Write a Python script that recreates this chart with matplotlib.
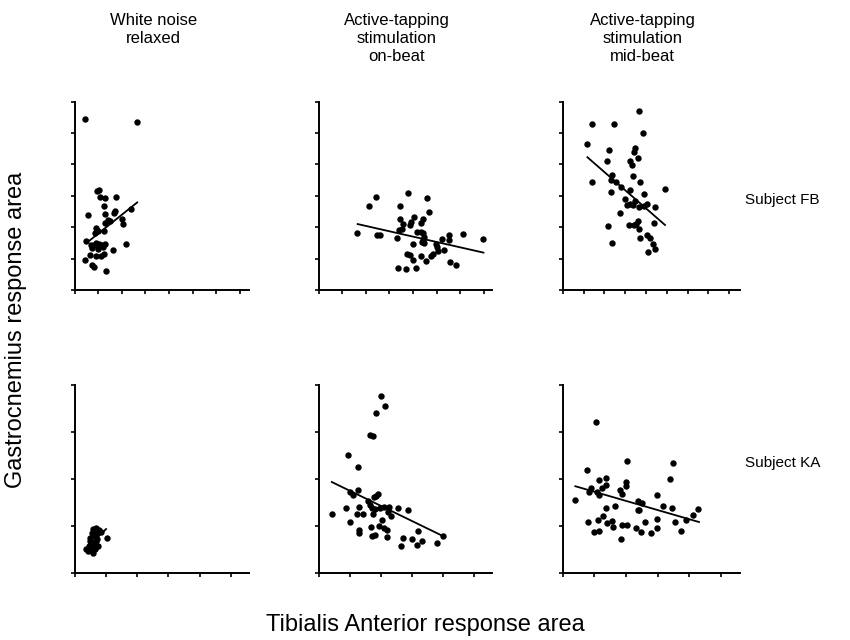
import matplotlib.pyplot as plt
import numpy as np

plt.rcParams['font.family'] = ['Liberation Sans', 'DejaVu Sans']

# units: one tick step = 1 on both axes (the original has no tick labels)

# Subject FB, white noise relaxed
fb_wn_x = [0.45, 2.64, 1.04, 0.96, 1.09, 1.28, 1.73, 1.22, 0.55, 1.30, 1.72, 1.67,
           1.43, 1.49, 1.29, 2.01, 2.03, 2.38, 0.92, 1.00, 0.84, 1.25, 0.47, 0.67,
           0.82, 0.92, 1.04, 1.15, 1.30, 0.75, 0.98, 1.20, 2.16, 1.63, 0.64, 0.89,
           1.10, 1.25, 0.44, 0.71, 0.81, 1.33]
fb_wn_y = [5.45, 5.34, 3.20, 3.16, 2.95, 2.94, 2.97, 2.68, 2.39, 2.43, 2.53, 2.46,
           2.23, 2.19, 2.12, 2.25, 2.10, 2.57, 1.96, 1.87, 1.80, 1.89, 1.57, 1.43,
           1.43, 1.51, 1.46, 1.42, 1.46, 1.33, 1.32, 1.38, 1.45, 1.27, 1.11, 1.08,
           1.08, 1.13, 0.96, 0.80, 0.74, 0.59]
fb_wn_fit_x = [0.57, 2.65]
fb_wn_fit_y = [1.54, 2.79]

# Subject FB, on-beat
fb_on_x = [1.64, 2.12, 2.43, 2.46, 2.60, 3.34, 3.45, 3.79, 4.58, 4.70, 3.45, 3.56,
           3.42, 3.55, 3.88, 4.03, 4.34, 4.44, 3.93, 4.17, 4.34, 4.41, 4.47, 4.43,
           4.48, 4.37, 4.00, 4.97, 5.01, 5.05, 4.84, 4.78, 5.30, 5.23, 5.52, 5.52,
           6.11, 6.97, 3.74, 3.86, 4.02, 4.33, 4.55, 3.69, 3.37, 4.14, 5.55, 5.81]
fb_on_y = [1.82, 2.69, 2.97, 1.75, 1.74, 1.66, 2.67, 3.08, 2.93, 2.47, 2.25, 2.10,
           1.90, 1.93, 2.06, 2.31, 2.14, 2.26, 2.17, 1.84, 1.86, 1.80, 1.69, 1.59,
           1.50, 1.54, 1.48, 1.48, 1.38, 1.25, 1.14, 1.08, 1.27, 1.62, 1.74, 1.58,
           1.78, 1.61, 1.16, 1.10, 0.95, 1.08, 0.92, 0.67, 0.71, 0.69, 0.90, 0.80]
fb_on_fit_x = [1.65, 6.99]
fb_on_fit_y = [2.10, 1.19]

# Subject FB, mid-beat
fb_mid_x = [3.68, 1.40, 2.45, 3.85, 1.19, 2.21, 3.46, 3.41, 3.60, 2.12, 3.25, 3.34,
            2.36, 3.36, 1.40, 2.32, 2.55, 3.74, 2.79, 3.25, 4.92, 2.31, 3.92, 3.01,
            3.07, 3.23, 3.36, 3.47, 3.66, 3.89, 4.06, 4.46, 2.75, 3.60, 3.54, 3.41,
            3.18, 4.39, 2.17, 3.68, 3.73, 4.03, 4.20, 4.32, 4.44, 4.08, 2.39]
fb_mid_y = [5.71, 5.30, 5.30, 5.00, 4.66, 4.46, 4.54, 4.40, 4.22, 4.10, 4.10, 3.99,
            3.68, 3.63, 3.44, 3.49, 3.43, 3.44, 3.27, 3.20, 3.23, 3.11, 3.06, 2.91,
            2.71, 2.75, 2.71, 2.84, 2.65, 2.68, 2.75, 2.66, 2.46, 2.20, 2.10, 2.08,
            2.08, 2.13, 2.05, 1.93, 1.65, 1.74, 1.65, 1.48, 1.32, 1.20, 1.51]
fb_mid_fit_x = [1.19, 4.92]
fb_mid_fit_y = [4.23, 2.07]

# Subject KA, white noise relaxed
ka_wn_x = [0.59, 0.67, 0.78, 0.83, 0.56, 0.72, 0.48, 0.63, 0.72, 0.48, 0.67, 0.53,
           0.65, 0.75, 0.46, 0.59, 0.50, 0.43, 0.57, 0.64, 0.37, 1.02]
ka_wn_y = [0.93, 0.95, 0.92, 0.87, 0.85, 0.84, 0.74, 0.78, 0.71, 0.67, 0.67, 0.64,
           0.62, 0.57, 0.57, 0.53, 0.48, 0.46, 0.42, 0.50, 0.50, 0.74]
ka_wn_fit_x = [0.45, 1.00]
ka_wn_fit_y = [0.57, 0.93]

# Subject KA, on-beat
ka_on_x = [2.01, 2.14, 1.85, 1.66, 1.73, 0.94, 1.26, 1.26, 1.00, 1.10, 0.42, 0.88,
           1.00, 1.22, 1.31, 1.42, 1.30, 1.31, 1.58, 1.65, 1.77, 1.84, 1.92, 1.72,
           1.80, 1.96, 2.09, 2.26, 2.24, 2.32, 1.74, 2.04, 1.67, 1.94, 2.09, 2.21,
           1.72, 1.80, 2.19, 2.54, 2.86, 2.70, 2.66, 3.00, 3.19, 3.32, 3.15, 3.81, 4.00]
ka_on_y = [3.76, 3.55, 3.40, 2.94, 2.91, 2.51, 2.25, 1.77, 1.72, 1.66, 1.25, 1.37,
           1.08, 1.25, 1.39, 1.25, 0.91, 0.85, 1.52, 1.45, 1.62, 1.64, 1.67, 1.38,
           1.35, 1.38, 1.39, 1.39, 1.30, 1.20, 1.25, 1.13, 0.98, 0.99, 0.95, 0.91,
           0.79, 0.80, 0.76, 1.37, 1.33, 0.74, 0.58, 0.71, 0.88, 0.68, 0.59, 0.64, 0.78]
ka_on_fit_x = [0.42, 4.00]
ka_on_fit_y = [1.93, 0.78]

# Subject KA, mid-beat
ka_mid_x = [1.05, 0.40, 0.76, 0.89, 0.82, 1.16, 1.38, 1.24, 1.38, 1.08, 1.16, 2.02,
            2.00, 1.99, 1.80, 1.88, 1.37, 1.66, 2.39, 2.49, 2.37, 2.41, 0.81, 1.11,
            1.27, 1.41, 1.55, 1.59, 0.99, 1.14, 1.86, 2.02, 1.83, 2.31, 2.48, 2.61,
            2.80, 2.98, 2.99, 2.99, 3.18, 3.38, 3.47, 3.46, 3.56, 3.74, 3.88, 4.11, 4.28]
ka_mid_y = [3.20, 1.55, 2.19, 1.81, 1.71, 1.97, 2.01, 1.81, 1.87, 1.71, 1.66, 2.38,
            1.93, 1.85, 1.75, 1.67, 1.37, 1.42, 1.53, 1.48, 1.34, 1.33, 1.08, 1.13,
            1.20, 1.05, 1.10, 0.97, 0.86, 0.88, 1.01, 1.01, 0.71, 0.95, 0.87, 1.09,
            0.85, 0.95, 1.15, 1.66, 1.42, 2.00, 2.34, 1.37, 1.07, 0.89, 1.13, 1.23, 1.35]
ka_mid_fit_x = [0.40, 4.30]
ka_mid_fit_y = [1.84, 1.08]

col_titles = ['White noise\nrelaxed',
              'Active-tapping\nstimulation\non-beat',
              'Active-tapping\nstimulation\nmid-beat']
row_labels = ['Subject FB', 'Subject KA']

panels = [
    [(fb_wn_x, fb_wn_y, fb_wn_fit_x, fb_wn_fit_y),
     (fb_on_x, fb_on_y, fb_on_fit_x, fb_on_fit_y),
     (fb_mid_x, fb_mid_y, fb_mid_fit_x, fb_mid_fit_y)],
    [(ka_wn_x, ka_wn_y, ka_wn_fit_x, ka_wn_fit_y),
     (ka_on_x, ka_on_y, ka_on_fit_x, ka_on_fit_y),
     (ka_mid_x, ka_mid_y, ka_mid_fit_x, ka_mid_fit_y)],
]

fig = plt.figure(figsize=(8.5, 6.4), dpi=100)

lefts = [0.088, 0.375, 0.662]
widths = [0.205, 0.204, 0.208]
bottoms = [0.547, 0.105]
xmax = [[7.4, 7.36, 8.5], [5.58, 5.58, 5.58]]
ymax = [6, 4]

for r in range(2):
    for c in range(3):
        ax = fig.add_axes([lefts[c], bottoms[r], widths[c], 0.294])
        px, py, fx, fy = panels[r][c]
        ax.plot(px, py, 'o', color='black', markersize=4.6, markeredgewidth=0)
        ax.plot(fx, fy, color='black', lw=1.3)
        ax.set_xlim(0, xmax[r][c])
        ax.set_ylim(0, ymax[r])
        ax.set_xticks(np.arange(0, xmax[r][c], 1))
        ax.set_yticks(np.arange(0, ymax[r] + 1))
        ax.set_xticklabels([])
        ax.set_yticklabels([])
        ax.spines['top'].set_visible(False)
        ax.spines['right'].set_visible(False)
        ax.spines['left'].set_linewidth(1.4)
        ax.spines['bottom'].set_linewidth(1.4)
        ax.tick_params(direction='out', length=3, width=1.2)

for c in range(3):
    fig.text(lefts[c] + widths[c] / 2 - 0.01, 0.979, col_titles[c], ha='center', va='top',
             fontsize=12, linespacing=1.25)

fig.text(0.877, 0.688, row_labels[0], ha='left', va='center', fontsize=11)
fig.text(0.877, 0.277, row_labels[1], ha='left', va='center', fontsize=11)

fig.text(0.019, 0.485, 'Gastrocnemius response area', rotation=90, ha='center',
         va='center', fontsize=17)
fig.text(0.5, 0.023, 'Tibialis Anterior response area', ha='center', va='center',
         fontsize=17)

fig.savefig('out.png', dpi=100)
